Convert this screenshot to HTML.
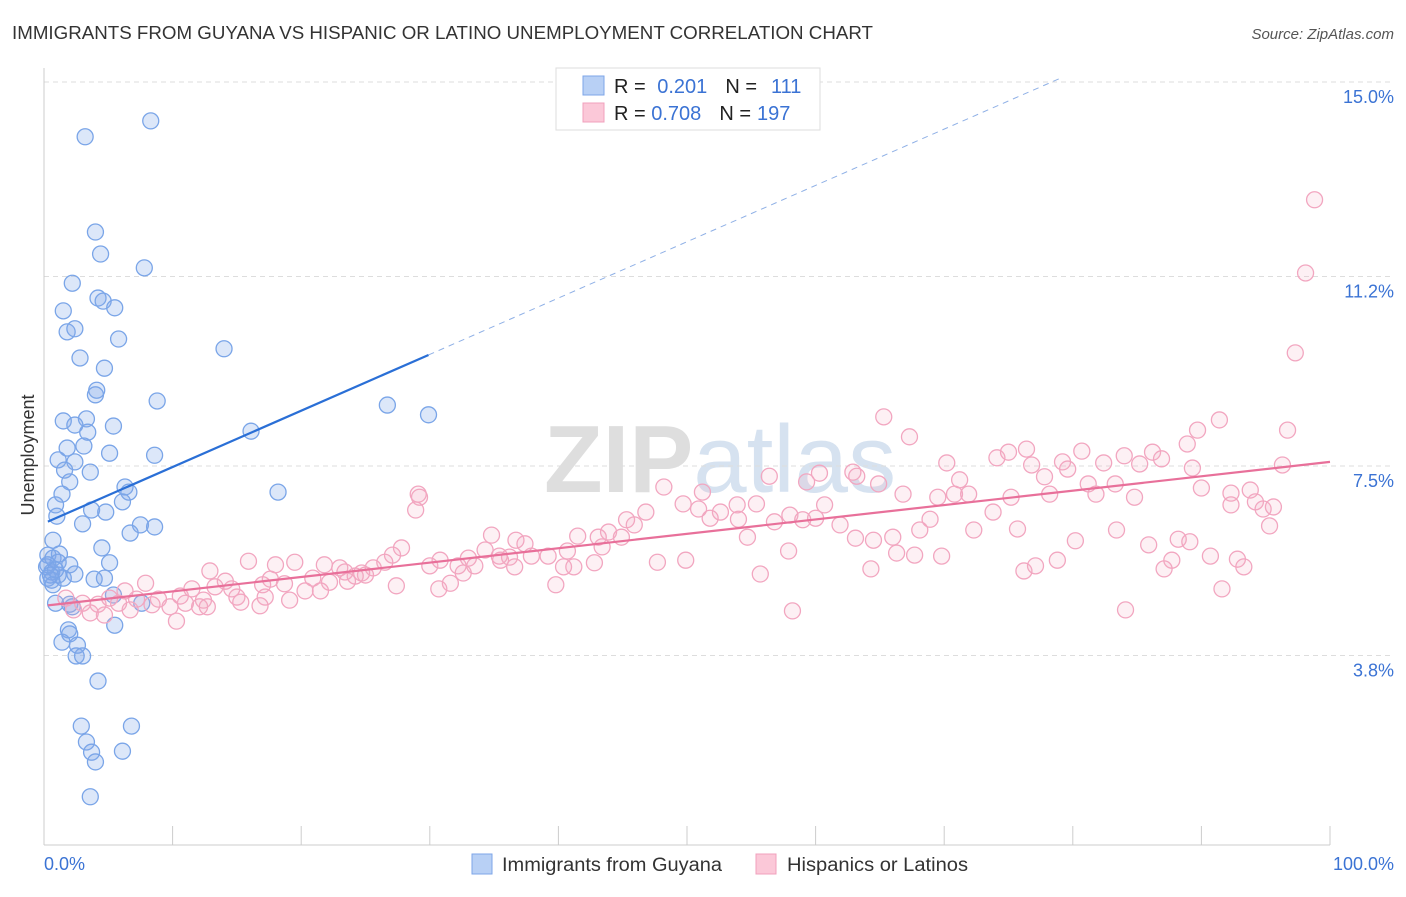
<!DOCTYPE html>
<html><head><meta charset="utf-8">
<style>
body{margin:0;background:#fff;font-family:"Liberation Sans",sans-serif;}
svg text{font-family:"Liberation Sans",sans-serif;}
</style></head>
<body>
<svg id="chart" width="1406" height="892" viewBox="0 0 1406 892" xmlns="http://www.w3.org/2000/svg">
<text x="12" y="39" font-size="18.5" fill="#333" textLength="861" lengthAdjust="spacingAndGlyphs">IMMIGRANTS FROM GUYANA VS HISPANIC OR LATINO UNEMPLOYMENT CORRELATION CHART</text>
<text x="1394" y="39" font-size="15" fill="#555" font-style="italic" text-anchor="end">Source: ZipAtlas.com</text>
<text x="720" y="492" font-size="96" fill="#e4e4e4" text-anchor="middle" font-family="Liberation Serif"><tspan font-weight="bold" fill="#dedede">ZIP</tspan><tspan fill="#d6e2f0" font-family="Liberation Sans">atlas</tspan></text>
<g id="grid"></g>
<g id="axes"></g>
<g id="blue-pts"></g>
<g id="pink-pts"></g>
<g id="trends"></g>
<text x="34" y="455" font-size="18" fill="#333" text-anchor="middle" transform="rotate(-90 34 455)">Unemployment</text>
<g>
<rect x="556" y="68" width="264" height="62" fill="#fff" stroke="#ddd"/>
<rect x="583" y="76" width="21" height="19" fill="#b8d0f5" stroke="#7ea6e8"/>
<rect x="583" y="103" width="21" height="19" fill="#fbc8d8" stroke="#f0a0bc"/>
<text x="614" y="93" font-size="20" fill="#222">R = <tspan fill="#3b73d4" dx="6">0.201</tspan><tspan dx="18" fill="#222">N =</tspan><tspan dx="14" fill="#3b73d4">111</tspan></text>
<text x="614" y="120" font-size="20" fill="#222">R = <tspan fill="#3b73d4">0.708</tspan><tspan dx="18" fill="#222">N =</tspan><tspan dx="6" fill="#3b73d4">197</tspan></text>
</g>
<g>
<rect x="472" y="854" width="20" height="20" fill="#b8d0f5" stroke="#7ea6e8"/>
<text x="502" y="871" font-size="19" fill="#333" textLength="220" lengthAdjust="spacingAndGlyphs">Immigrants from Guyana</text>
<rect x="756" y="854" width="20" height="20" fill="#fbc8d8" stroke="#f0a0bc"/>
<text x="787" y="871" font-size="19" fill="#333" textLength="181" lengthAdjust="spacingAndGlyphs">Hispanics or Latinos</text>
</g>
</svg>
<script>
const yTicks=[15.0,11.2,7.5,3.8];
const yTickLabels=["15.0%","11.2%","7.5%","3.8%"];
const xTickLabels=["0.0%","100.0%"];
const blueX=[3.2,8.3,4.0,4.4,7.8,2.2,4.2,4.6,5.5,1.5,1.8,2.4,5.8,14.0,2.8,4.7,4.1,4.0,8.8,26.7,29.9,1.5,3.3,5.4,2.4,3.4,1.8,3.1,5.1,8.6,16.1,2.4,1.1,3.6,1.6,2.0,1.4,6.3,6.6,0.9,3.7,6.1,4.8,18.2,1.0,3.0,7.5,8.6,6.7,4.5,0.7,0.3,0.7,1.2,1.1,2.0,0.2,0.6,1.1,2.4,0.3,0.6,5.1,3.9,4.7,0.7,1.5,0.9,2.0,2.2,7.6,5.4,5.5,1.9,2.0,1.4,2.6,2.5,3.0,4.2,2.9,6.8,3.3,3.7,4.0,6.1,3.6,0.3,0.9,0.5];
const blueY=[13.93,14.24,12.07,11.64,11.37,11.07,10.78,10.72,10.59,10.53,10.12,10.18,9.98,9.79,9.61,9.41,8.98,8.89,8.77,8.69,8.50,8.38,8.42,8.28,8.30,8.16,7.85,7.89,7.75,7.71,8.18,7.58,7.62,7.38,7.42,7.19,6.95,7.09,6.99,6.74,6.64,6.80,6.60,6.99,6.52,6.37,6.35,6.31,6.19,5.90,6.05,5.76,5.70,5.78,5.62,5.57,5.53,5.43,5.37,5.39,5.31,5.27,5.61,5.29,5.31,5.18,5.31,4.82,4.80,4.75,4.82,4.98,4.39,4.30,4.22,4.06,4.00,3.79,3.79,3.30,2.42,2.42,2.11,1.91,1.72,1.93,1.04,5.57,5.47,5.37];
const pinkX=[98.8,98.1,97.3,65.3,91.4,96.7,67.3,88.9,89.7,76.4,80.7,84.0,86.2,86.9,82.4,85.2,89.3,96.3,70.2,74.1,79.2,76.8,75.0,79.6,77.8,81.2,71.2,56.4,60.3,62.9,63.2,64.9,59.3,83.3,81.8,84.8,90.0,92.3,93.8,94.2,94.8,95.6,92.3,78.2,75.2,71.9,70.8,69.5,66.8,60.7,60.0,58.0,59.0,55.4,53.9,52.6,51.8,50.9,49.7,51.2,48.2,54.0,56.8,54.7,61.9,63.1,64.5,66.0,68.1,68.9,72.3,73.8,75.7,80.2,83.4,85.9,88.2,89.1,95.3,87.7,90.7,92.8,93.3,87.1,78.8,77.1,76.2,69.8,67.7,66.3,64.3,57.9,49.9,47.7,58.2,84.1,91.6,55.7,45.9,44.9,45.3,46.8,43.9,43.1,43.4,41.5,40.7,40.4,41.2,42.8,39.8,39.2,37.9,36.7,36.2,35.4,34.8,34.3,33.0,32.2,31.6,30.7,30.0,29.1,29.2,28.9,27.8,27.1,26.5,25.6,25.0,24.2,23.6,23.0,22.2,21.8,20.9,20.3,19.5,18.7,18.0,17.6,17.2,16.8,15.9,15.0,14.6,14.1,13.3,12.9,12.4,12.1,11.5,11.0,10.6,9.8,8.9,8.4,7.9,7.2,6.7,6.3,5.8,5.1,4.7,4.2,3.6,3.0,2.3,1.7,10.3,12.7,15.3,17.0,19.1,21.5,23.4,24.7,27.4,30.8,32.6,33.5,35.5,36.6,37.4];
const pinkY=[12.70,11.27,9.71,8.46,8.40,8.20,8.07,7.93,8.20,7.83,7.79,7.70,7.77,7.64,7.56,7.54,7.46,7.52,7.56,7.66,7.58,7.52,7.77,7.44,7.29,7.15,7.23,7.30,7.36,7.38,7.30,7.15,7.19,7.15,6.95,6.89,7.07,6.97,7.03,6.80,6.66,6.70,6.74,6.95,6.89,6.95,6.95,6.89,6.95,6.74,6.48,6.54,6.45,6.76,6.74,6.60,6.48,6.66,6.76,6.99,7.09,6.46,6.41,6.11,6.35,6.09,6.05,6.11,6.25,6.46,6.25,6.60,6.27,6.04,6.25,5.96,6.07,6.02,6.33,5.66,5.74,5.68,5.53,5.49,5.66,5.55,5.45,5.74,5.76,5.80,5.49,5.84,5.66,5.62,4.67,4.69,5.10,5.39,6.35,6.11,6.45,6.60,6.21,6.11,5.92,6.13,5.84,5.53,5.53,5.61,5.18,5.74,5.74,6.05,5.72,5.74,6.15,5.86,5.70,5.55,5.21,5.10,5.55,6.95,6.89,6.64,5.90,5.76,5.62,5.51,5.37,5.35,5.25,5.51,5.23,5.57,5.31,5.06,5.62,5.20,5.57,5.29,4.94,4.77,5.64,4.94,5.10,5.25,5.14,5.45,4.88,4.75,5.10,4.82,4.96,4.75,4.90,4.79,5.21,4.90,4.69,5.06,4.82,4.92,4.59,4.80,4.63,4.82,4.69,4.92,4.47,4.75,4.84,5.18,4.88,5.06,5.43,5.41,5.16,5.66,5.41,5.55,5.66,5.53,5.98];
const blueTrend=[6.38,0.110];
const pinkTrend=[4.77,0.0281];

const NS="http://www.w3.org/2000/svg";
const X0=44,X1=1330,Ytop=82,PPV=51.2;
const sx=v=>X0+(X1-X0)*v/100;
const sy=v=>Ytop+(15-v)*PPV;
function mk(tag,attrs,parent){const e=document.createElementNS(NS,tag);for(const k in attrs)e.setAttribute(k,attrs[k]);parent.appendChild(e);return e;}
const grid=document.getElementById('grid'),axes=document.getElementById('axes');
yTicks.forEach((t,i)=>{
  const l=mk('line',{x1:X0,x2:1394,y1:sy(t),y2:sy(t),stroke:'#ddd','stroke-dasharray':'5,4'},grid);
  
  
  const tx=mk('text',{x:1394,y:sy(t)+21,'font-size':18,fill:'#3b73d4','text-anchor':'end'},axes);
  tx.textContent=yTickLabels[i];
  
  
});
const xa=mk('line',{x1:X0,x2:X1,y1:845,y2:845,stroke:'#ccc'},axes);


const ya=mk('line',{x1:X0,x2:X0,y1:68,y2:845,stroke:'#ccc'},axes);


for(let i=0;i<=10;i++){
  const tk=mk('line',{x1:sx(i*10),x2:sx(i*10),y1:826,y2:845,stroke:'#ccc'},axes);
  
  
}
const xl0=mk('text',{x:44,y:870,'font-size':18,fill:'#3b73d4'},axes);xl0.textContent=xTickLabels[0];


const xl1=mk('text',{x:1394,y:870,'font-size':18,fill:'#3b73d4','text-anchor':'end'},axes);xl1.textContent=xTickLabels[1];


const bg=document.getElementById('blue-pts'),pg=document.getElementById('pink-pts');
blueX.forEach((x,i)=>{
  const c=mk('circle',{cx:sx(x),cy:sy(blueY[i]),r:8,fill:'rgba(130,170,235,0.28)',stroke:'#7aa5e8','stroke-width':1.3},bg);
  
  
});
pinkX.forEach((x,i)=>{
  const c=mk('circle',{cx:sx(x),cy:sy(pinkY[i]),r:8,fill:'rgba(245,170,195,0.18)',stroke:'#f2a6c0','stroke-width':1.3},pg);
  
  
});
const tg=document.getElementById('trends');
const bmax=Math.max(...blueX);
const bt=mk('line',{x1:sx(0.3),y1:sy(blueTrend[0]+blueTrend[1]*0.3),x2:sx(bmax),y2:sy(blueTrend[0]+blueTrend[1]*bmax),stroke:'#2a6fd6','stroke-width':2.2},tg);


const xEnd=(15.08-blueTrend[0])/blueTrend[1];
const bd=mk('line',{x1:sx(bmax),y1:sy(blueTrend[0]+blueTrend[1]*bmax),x2:sx(xEnd),y2:sy(15.08),stroke:'#8fb0e6','stroke-width':1,'stroke-dasharray':'6,5'},tg);


const pt=mk('line',{x1:sx(0.3),y1:sy(pinkTrend[0]+pinkTrend[1]*0.3),x2:sx(100),y2:sy(pinkTrend[0]+pinkTrend[1]*100),stroke:'#e8709a','stroke-width':2.2},tg);


</script>
</body></html>
